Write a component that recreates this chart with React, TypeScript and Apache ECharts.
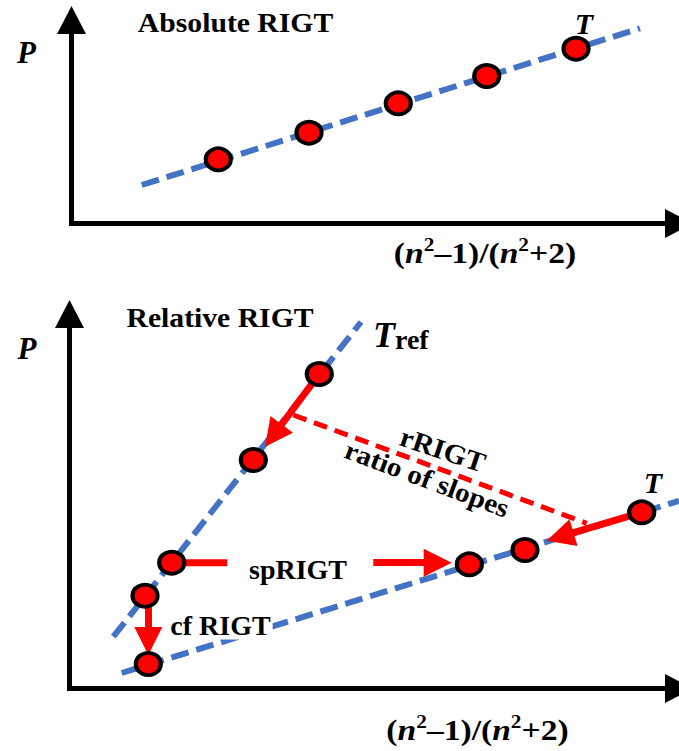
import React, { useEffect, useRef } from "react";
import * as echarts from "echarts";

// ---- Top panel (Absolute RIGT) ----
const absFitX = [11.56, 93.58];
const absFitY = [18.92, 95.92];
const absX = [24.16, 39.09, 53.79, 68.35, 83.05];
const absY = [31.55, 44.62, 59.07, 72.48, 85.9];

// ---- Bottom panel (Relative RIGT) ----
const refFitX = [7.19, 47.83];
const refFitY = [13.83, 97.86];
const tFitX = [8.56, 100];
const tFitY = [4.14, 50.12];
const refX = [40.98, 30.16, 16.77, 12.39];
const refY = [83.98, 61.01, 33.59, 24.78];
const tX = [12.93, 65.6, 74.73, 93.88];
const tY = [6.54, 33.16, 36.98, 47.05];

// arrows: start -> arrow-head centre
const arrowFromX = [40.98, 93.88, 49.84, 12.93];
const arrowFromY = [83.98, 47.05, 33.59, 22.03];
const arrowToX = [33.45, 80.49, 60.41, 12.93];
const arrowToY = [67.56, 40.53, 33.59, 12.68];
// plain red segment (spRIGT left part)
const spSegX = [16.77, 25.89];
const spSegY = [33.59, 33.59];
// red dashed (rRIGT)
const rDashX = [36.72, 84.86];
const rDashY = [73.03, 44.11];

const BLUE = "#4472C4";
const RED = "#FF0000";
const SERIF = "'Liberation Serif', 'Times New Roman', serif";

const zip = (xs: number[], ys: number[]) => xs.map((x, i) => [x, ys[i]]);

export default function App() {
  const ref = useRef<HTMLDivElement>(null);
  useEffect(() => {
    const chart = echarts.init(ref.current!, null, { renderer: "svg" });
    const axisLine = {
      show: true,
      onZero: false,
      symbol: ["none", "triangle"],
      symbolSize: [29, 28],
      lineStyle: { color: "#000", width: 5, cap: "square" },
    };
    const baseAxis = {
      type: "value",
      min: 0,
      max: 100,
      axisLine,
      axisTick: { show: false },
      axisLabel: { show: false },
      splitLine: { show: false },
    };
    const dot = {
      type: "scatter",
      symbol: "circle",
      symbolSize: [25, 22],
      itemStyle: { color: RED, borderColor: "#000", borderWidth: 4, opacity: 1 },
      z: 6,
      silent: true,
    };
    const blueLine = (xi: number, xs: number[], ys: number[]) => ({
      type: "line",
      xAxisIndex: xi,
      yAxisIndex: xi,
      data: zip(xs, ys),
      symbol: "none",
      showSymbol: false,
      lineStyle: { color: BLUE, width: 6, type: [18, 8] },
      z: 2,
      silent: true,
    });
    const txt = (
      x: number,
      y: number,
      text: string,
      size: number,
      opts: any = {}
    ) => ({
      type: "text",
      x,
      y,
      z: 10,
      rotation: opts.rotation || 0,
      scaleX: opts.scaleX || 1,
      style: {
        text,
        fontFamily: SERIF,
        fontSize: size,
        fontWeight: "bold",
        fontStyle: opts.italic ? "italic" : "normal",
        fill: "#000",
        align: opts.align || "center",
        verticalAlign: "middle",
        backgroundColor: opts.bg,
        padding: opts.bg ? [0, 2] : undefined,
        rich: opts.rich,
      },
    });
    const axisRich = {
      a: { fontFamily: SERIF, fontSize: 30, fontWeight: "bold", lineHeight: 36 },
      n: { fontFamily: SERIF, fontSize: 30, fontWeight: "bold", fontStyle: "italic", lineHeight: 36 },
      s: { fontFamily: SERIF, fontSize: 19, fontWeight: "bold", lineHeight: 19, verticalAlign: "top" },
    };
    const axisText = "{a|(}{n|n}{s|2}{a|–1)/(}{n|n}{s|2}{a|+2)}";
    const trefRich = {
      t: { fontFamily: SERIF, fontSize: 36, fontWeight: "bold", fontStyle: "italic", lineHeight: 36, verticalAlign: "bottom" },
      r: { fontFamily: SERIF, fontSize: 28, fontWeight: "bold", lineHeight: 16, verticalAlign: "bottom" },
    };

    const option: any = {
      animation: false,
      backgroundColor: "#fff",
      grid: [
        { left: 71.5, top: 20, width: 607.5, height: 203.5 },
        { left: 69.5, top: 314, width: 609.5, height: 374.5 },
      ],
      xAxis: [
        { ...baseAxis, gridIndex: 0 },
        { ...baseAxis, gridIndex: 1 },
      ],
      yAxis: [
        { ...baseAxis, gridIndex: 0 },
        { ...baseAxis, gridIndex: 1 },
      ],
      series: [
        blueLine(0, absFitX, absFitY),
        { ...dot, xAxisIndex: 0, yAxisIndex: 0, data: zip(absX, absY) },
        blueLine(1, refFitX, refFitY),
        blueLine(1, tFitX, tFitY),
        {
          type: "line",
          xAxisIndex: 1,
          yAxisIndex: 1,
          data: zip(rDashX, rDashY),
          symbol: "none",
          lineStyle: { color: RED, width: 5, type: [14, 8] },
          z: 3,
          silent: true,
        },
        {
          type: "line",
          xAxisIndex: 1,
          yAxisIndex: 1,
          data: zip(spSegX, spSegY),
          symbol: "none",
          lineStyle: { color: RED, width: 7 },
          z: 3,
          silent: true,
        },
        {
          type: "lines",
          coordinateSystem: "cartesian2d",
          xAxisIndex: 1,
          yAxisIndex: 1,
          symbol: ["none", "triangle"],
          symbolSize: 28,
          lineStyle: { color: RED, width: 7, opacity: 1, curveness: 0 },
          data: arrowFromX.map((x, i) => ({
            coords: [
              [x, arrowFromY[i]],
              [arrowToX[i], arrowToY[i]],
            ],
          })),
          z: 4,
          silent: true,
        },
        { ...dot, xAxisIndex: 1, yAxisIndex: 1, data: zip(refX, refY) },
        { ...dot, xAxisIndex: 1, yAxisIndex: 1, data: zip(tX, tY) },
      ],
      graphic: [
        txt(235.5, 22, "Absolute RIGT", 28, { scaleX: 1.06 }),
        txt(26.5, 52, "P", 31, { italic: true }),
        txt(584, 23, "T", 30, { italic: true }),
        txt(485, 253, axisText, 30, { rich: axisRich, scaleX: 1.12 }),
        txt(220, 317, "Relative RIGT", 28, { scaleX: 1.06 }),
        txt(27, 348, "P", 31, { italic: true }),
        txt(373, 335, "{t|T}{r|ref}", 36, { rich: trefRich, align: "left" }),
        txt(653, 482, "T", 30, { italic: true }),
        txt(443, 449.5, "rRIGT", 28, { rotation: (-18.5 * Math.PI) / 180, scaleX: 1.05 }),
        txt(427, 479, "ratio of slopes", 27, { rotation: (-20.5 * Math.PI) / 180, scaleX: 1.08 }),
        txt(298, 569.5, "spRIGT", 28),
        txt(220.5, 625.5, "cf RIGT", 28, { bg: "#fff" }),
        txt(477.5, 730, axisText, 30, { rich: axisRich, scaleX: 1.12 }),
      ],
    };
    chart.setOption(option);
    return () => chart.dispose();
  }, []);
  return (
    <div
      ref={ref}
      style={{ position: "fixed", left: 0, top: 0, width: 679, height: 751, background: "#fff" }}
    />
  );
}
